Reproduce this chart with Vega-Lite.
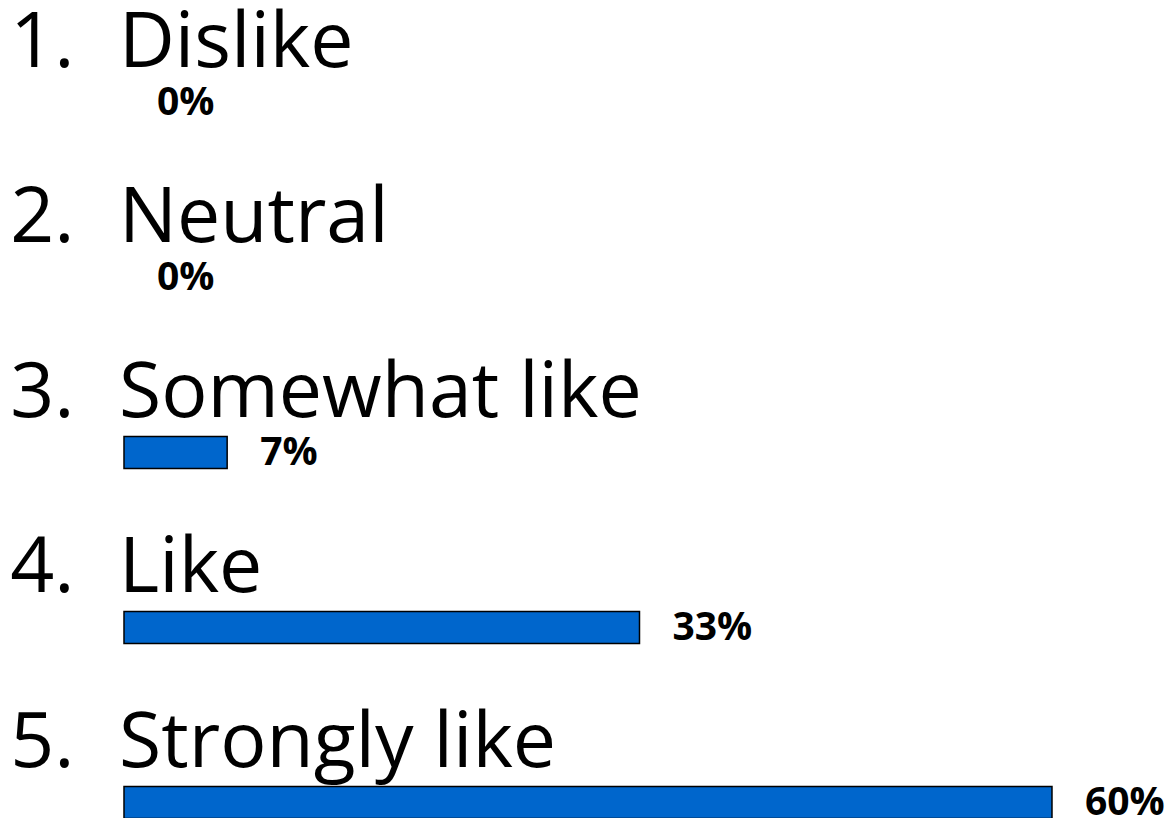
{
  "$schema": "https://vega.github.io/schema/vega-lite/v6.json",
  "width": 1170,
  "height": 818,
  "padding": 0,
  "autosize": {"type": "none"},
  "background": "white",
  "config": {"view": {"stroke": null}, "font": "Open Sans"},
  "data": {
    "values": [
      {"num": "1.", "item": "Dislike", "value": 0, "label": "0%"},
      {"num": "2.", "item": "Neutral", "value": 0, "label": "0%"},
      {"num": "3.", "item": "Somewhat like", "value": 6.67, "label": "7%"},
      {"num": "4.", "item": "Like", "value": 33.33, "label": "33%"},
      {"num": "5.", "item": "Strongly like", "value": 60, "label": "60%"}
    ]
  },
  "encoding": {
    "y": {
      "field": "item",
      "type": "nominal",
      "sort": ["Dislike", "Neutral", "Somewhat like", "Like", "Strongly like"],
      "scale": {"range": [15, 890], "paddingInner": 0.817, "paddingOuter": 0.4085},
      "axis": null
    }
  },
  "layer": [
    {
      "mark": {"type": "bar", "color": "#0066CC", "stroke": "#000000"},
      "encoding": {
        "x": {"field": "value", "type": "quantitative", "scale": {"domain": [-8.017, 67.63], "nice": false, "zero": false}, "axis": null},
        "strokeWidth": {"condition": {"test": "datum.value > 0", "value": 1.5}, "value": 0}
      }
    },
    {
      "mark": {"type": "text", "align": "left", "baseline": "middle", "dx": 33, "fontSize": 39, "fontWeight": "bold", "color": "#000000"},
      "encoding": {
        "x": {"field": "value", "type": "quantitative"},
        "text": {"field": "label"}
      }
    },
    {
      "mark": {"type": "text", "align": "left", "baseline": "alphabetic", "dx": -5, "dy": -36, "fontSize": 77, "color": "#000000"},
      "encoding": {
        "x": {"datum": 0, "type": "quantitative"},
        "text": {"field": "item"}
      }
    },
    {
      "mark": {"type": "text", "align": "right", "baseline": "alphabetic", "dy": -36, "fontSize": 77, "color": "#000000"},
      "encoding": {
        "x": {"datum": -3.2, "type": "quantitative"},
        "text": {"field": "num"}
      }
    }
  ]
}
